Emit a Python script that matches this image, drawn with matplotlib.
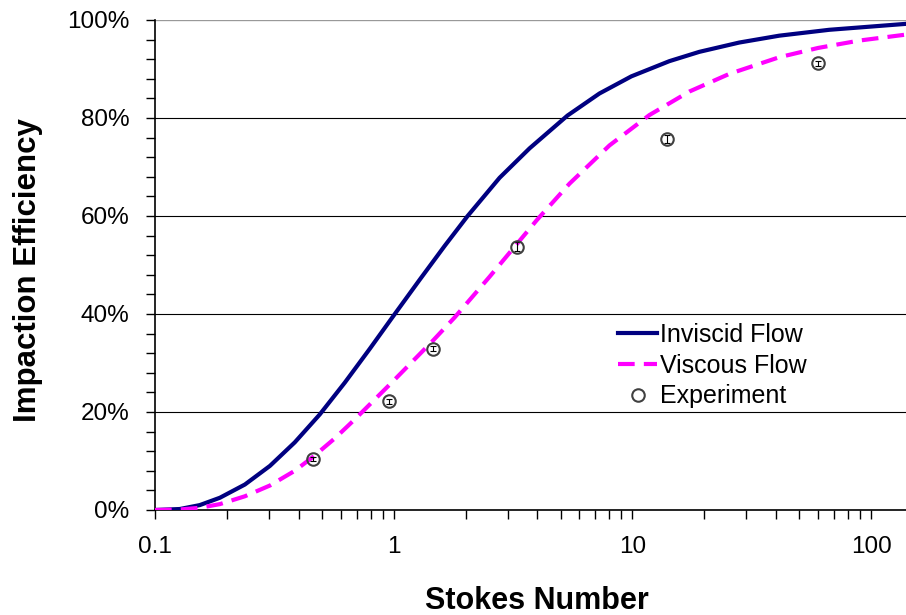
import numpy as np
import matplotlib.pyplot as plt
from matplotlib.ticker import FixedLocator, PercentFormatter, NullFormatter

plt.rcParams["font.family"] = ["Liberation Sans", "DejaVu Sans"]

# curves (Stokes number, efficiency %)
inviscid_stk = [0.1, 0.127, 0.154, 0.187, 0.238, 0.303, 0.385, 0.49, 0.624, 0.794, 0.99,
                1.285, 1.635, 2.04, 2.777, 3.707, 5.346, 7.275, 9.9, 14.28, 19.07, 28.03,
                41.22, 66.73, 138.8]
inviscid_eff = [0, 0.2, 1.0, 2.5, 5.2, 9.0, 13.8, 19.5, 26.0, 32.9, 39.4,
                47.0, 53.9, 60.0, 67.8, 73.8, 80.5, 85.0, 88.5, 91.6, 93.5, 95.4,
                96.8, 98.0, 99.2]

viscous_stk = [0.1, 0.127, 0.154, 0.187, 0.238, 0.303, 0.385, 0.458, 0.566, 0.687, 0.99,
               1.456, 1.8, 2.521, 3.27, 3.966, 5.45, 8.013, 11.78, 17.32, 25.46, 41.22,
               60.0, 89.1, 138.8]
viscous_eff = [0, 0.1, 0.45, 1.2, 2.8, 5.0, 8.0, 10.8, 14.6, 18.5, 26.2,
               34.5, 39.3, 47.6, 54.2, 59.1, 66.6, 74.4, 80.6, 85.4, 89.0, 92.4,
               94.3, 95.8, 97.0]

exp_stk = [0.458, 0.96, 1.46, 3.27, 14.0, 60]
exp_eff = [10.4, 22.2, 32.9, 53.7, 75.7, 91.2]
exp_err = [0.5, 0.5, 0.5, 0.9, 0.8, 0.5]

fig = plt.figure(figsize=(9.06, 6.15), dpi=100)
ax = fig.add_axes([155 / 906, 105 / 615, 751 / 906, 490 / 615])

ax.plot(inviscid_stk, inviscid_eff, color="#000080", lw=3, label="Inviscid Flow",
        zorder=3, solid_joinstyle="round")
ax.plot(viscous_stk, viscous_eff, color="#ff00ff", lw=3, ls=(0, (4, 2.2)),
        label="Viscous Flow", zorder=3)
ax.errorbar(exp_stk, exp_eff, yerr=exp_err, fmt="none", ecolor="black", elinewidth=0.8,
            capsize=2.5, capthick=0.8, zorder=4)
ax.plot(exp_stk, exp_eff, ls="none", marker="o", ms=9, mfc="none", mec="#404040",
        mew=1.5, label="Experiment", zorder=5)

ax.set_xscale("log")
ax.set_xlim(0.1, 140)
ax.set_ylim(0, 100)
ax.set_xticks([0.1, 1, 10, 100])
ax.set_xticklabels(["0.1", "1", "10", "100"])
ax.xaxis.set_minor_formatter(NullFormatter())
ax.yaxis.set_major_locator(FixedLocator(np.arange(0, 101, 20)))
ax.yaxis.set_minor_locator(FixedLocator(np.arange(0, 101, 4)))
ax.yaxis.set_major_formatter(PercentFormatter(decimals=0))

ax.grid(axis="y", which="major", color="black", lw=0.8)
ax.tick_params(which="both", direction="out", color="black", width=1, length=6.5)
ax.tick_params(which="major", labelsize=17.5)
ax.tick_params(axis="y", pad=12)
ax.tick_params(axis="x", pad=12)
for side in ["top", "right"]:
    ax.spines[side].set_visible(False)
ax.spines["left"].set_linewidth(1.2)
ax.spines["bottom"].set_linewidth(1.2)
ax.axhline(100, color="#999999", lw=1.5, zorder=2)

ax.set_xlabel("Stokes Number", fontsize=22, fontweight="bold")
ax.set_ylabel("Impaction Efficiency", fontsize=22.5, fontweight="bold")
ax.xaxis.set_label_coords(0.508, -0.155)
ax.yaxis.set_label_coords(-0.149, 0.49)

ax.legend(loc="upper left", bbox_to_anchor=(618 / 906, 1 - 323 / 615),
          bbox_transform=fig.transFigure, frameon=False, fontsize=18,
          borderpad=0, borderaxespad=0, handlelength=1.56, handletextpad=0.12,
          labelspacing=0.27)

fig.savefig("out.png", dpi=100)
